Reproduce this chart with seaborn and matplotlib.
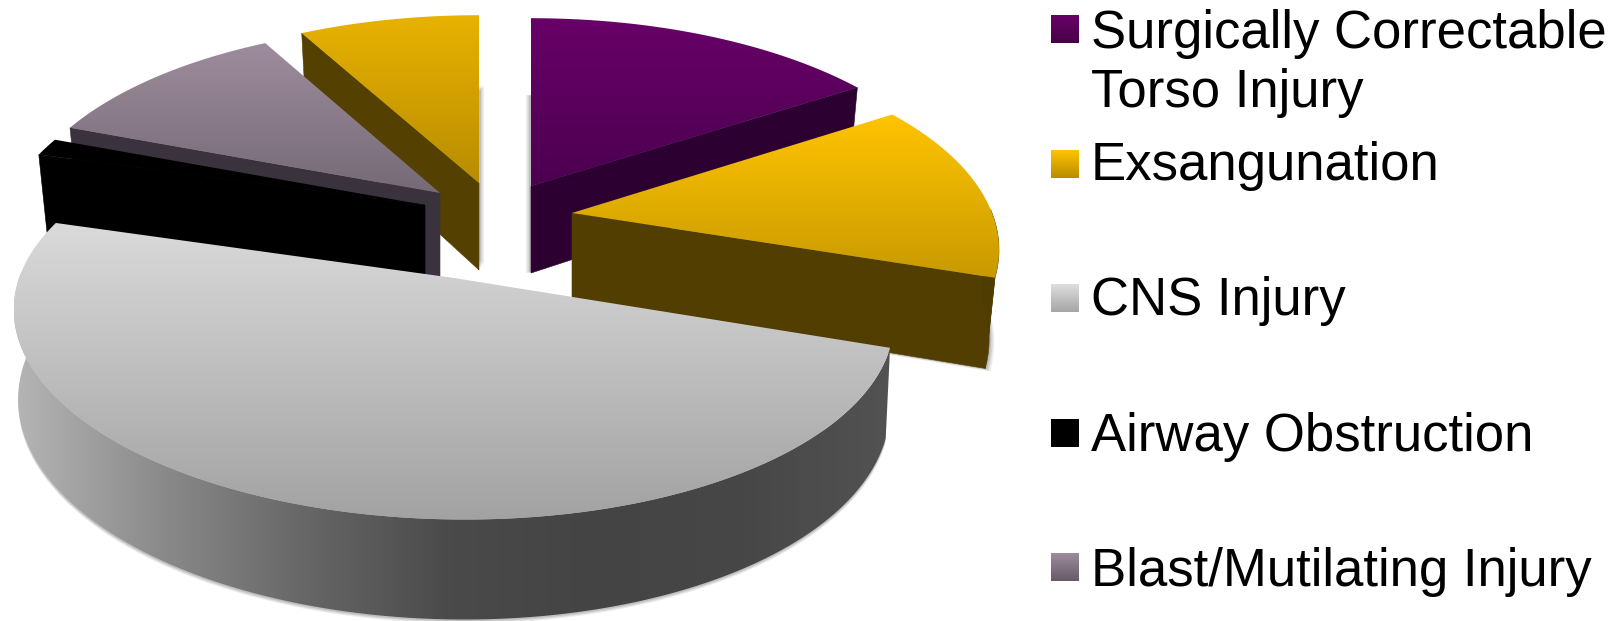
import numpy as np
import matplotlib
matplotlib.use("Agg")
import matplotlib.pyplot as plt
from matplotlib.patches import Polygon
import seaborn as sns

# Share of deaths per injury type, clockwise from twelve o'clock, in percent.
injury_types = ["Surgically Correctable\nTorso Injury", "Exsangunation", "CNS Injury",
                "Airway Obstruction", "Blast/Mutilating Injury"]
injury_shares = [15.8, 14.2, 49.3, 1.4, 11.3, 8.0]   # the sixth slice has no legend entry

# Per-slice styling: apex on the canvas, width, tilt, taper, shadow shift, colours.
slice_styles = [
    dict(apex=(531, 186), rx=428, tilt=0, lean=0.977, shadow=(-5, 0), grad=("#680068", "#4c0050"), face="#2c0030", side="#2c0030"),
    dict(apex=(572, 213), rx=420, tilt=0, lean=0.977, shadow=(5, 3), grad=("#ffc400", "#c89a00"), face="#523e00", side="#4f3c00"),
    dict(apex=(454, 278), rx=433, tilt=5, lean=0.99, shadow=(0, 4), grad=("#dadada", "#a2a2a2"), face="#555555", side=None),
    dict(apex=(425, 205), rx=420, tilt=0, lean=0.977, shadow=None, grad=("#000000", "#000000"), face="#000000", side="#000000"),
    dict(apex=(440, 193), rx=420, tilt=0, lean=0.977, shadow=None, grad=("#9d8c9d", "#766a77"), face="#3a323c", side="#3a323c"),
    dict(apex=(479, 183), rx=426, tilt=0, lean=0.977, shadow=(5, -6), grad=("#e8b200", "#b88c00"), face="#544000", side="#4f3c00"),
]
swatch_colours = [("#680068", "#480048"), ("#ffc400", "#b88c00"), ("#dedede", "#a6a6a6"),
                  ("#000000", "#000000"), ("#9d8c9d", "#665a67")]
draw_order = [5, 4, 3, 0, 1, 2]

HEIGHT_SCALE = 198.0
PERSPECTIVE = 0.18
DEPTH = 87.0
DEPTH_PERSPECTIVE = 0.13

sns.set_theme(style="white")
plt.rcParams["font.family"] = ["Liberation Sans", "DejaVu Sans"]

fig = plt.figure(figsize=(16.18, 6.21), dpi=100, facecolor="white")
ax = fig.add_axes([0, 0, 1, 1])
ax.set_xlim(0, 1618)
ax.set_ylim(621, 0)
ax.axis("off")


def top_point(style, theta):
    """Ground-plane angle (degrees) to a point on the slice's top rim."""
    t = np.radians(theta)
    w = 1 + PERSPECTIVE * np.sin(t)
    x = style["apex"][0] + style["rx"] * np.cos(t) / w
    y = style["apex"][1] - HEIGHT_SCALE * np.sin(t) / w + style["tilt"] * np.cos(t) / w
    return np.column_stack([x, y])


def lower(style, pts, thetas):
    """Drop rim points by the slice thickness to the bottom rim."""
    t = np.radians(thetas)
    out = pts.copy()
    out[:, 0] = style["apex"][0] + (pts[:, 0] - style["apex"][0]) * style["lean"]
    out[:, 1] = pts[:, 1] + DEPTH / (1 + DEPTH_PERSPECTIVE * np.sin(t))
    return out


def gradient_fill(poly, colours, vertical=True, zorder=2):
    """Fill a polygon with a linear gradient built from a seaborn colour blend."""
    cmap = sns.blend_palette(list(colours), n_colors=256, as_cmap=True)
    ramp = np.linspace(0, 1, 256)
    ramp = ramp[:, None] if vertical else ramp[None, :]
    x0, x1 = poly[:, 0].min(), poly[:, 0].max()
    y0, y1 = poly[:, 1].min(), poly[:, 1].max()
    image = ax.imshow(ramp, cmap=cmap, extent=(x0, x1, y1, y0), origin="upper",
                      aspect="auto", interpolation="bilinear", zorder=zorder)
    clip = Polygon(poly, closed=True, transform=ax.transData, facecolor="none", edgecolor="none")
    ax.add_patch(clip)
    image.set_clip_path(clip)


def draw_slice(style, start, end, zorder):
    thetas = np.linspace(start, end, 200)
    rim = top_point(style, thetas)
    apex = np.array([style["apex"]], dtype=float)
    apex_low = apex + np.array([[0, DEPTH]])

    # Soft shadow under the slice, from its bottom outline.
    if style["shadow"] is not None:
        outline = np.vstack([apex_low, lower(style, rim, thetas)])
        for k, alpha in zip((1.0, 0.7, 0.4), (0.10, 0.14, 0.18)):
            ax.add_patch(Polygon(outline + np.array(style["shadow"]) * k, closed=True,
                                 facecolor="#555555", edgecolor="none", alpha=alpha, zorder=zorder))

    # Only the faces turned towards the viewer are drawn.
    for angle, normal in ((start, start + 90), (end, end - 90)):
        if np.sin(np.radians(normal)) < -0.01:
            edge = top_point(style, np.array([angle]))
            edge_low = lower(style, edge, np.array([angle]))
            quad = np.vstack([apex, edge, edge_low, apex_low])
            ax.add_patch(Polygon(quad, closed=True, facecolor=style["face"], edgecolor=style["face"],
                                 linewidth=0.4, zorder=zorder + 1))

    front = thetas[np.sin(np.radians(thetas)) < 0.02]
    if front.size > 1:
        upper_rim = top_point(style, front)
        wall = np.vstack([upper_rim, lower(style, upper_rim, front)[::-1]])
        if style["side"] is None:
            gradient_fill(wall, ("#b4b4b4", "#8a8a8a", "#666666", "#4a4a4a", "#444444", "#474747", "#525252"),
                          vertical=False, zorder=zorder + 1)
        else:
            ax.add_patch(Polygon(wall, closed=True, facecolor=style["side"], edgecolor=style["side"],
                                 linewidth=0.4, zorder=zorder + 1))

    gradient_fill(np.vstack([apex, rim]), style["grad"], zorder=zorder + 2)


# Turn the shares into clockwise angular spans starting at the top.
edges = 90 - 360 * np.concatenate([[0], np.cumsum(injury_shares)]) / np.sum(injury_shares)
for rank, i in enumerate(draw_order):
    draw_slice(slice_styles[i], edges[i], edges[i + 1], zorder=10 + 5 * rank)

# Legend, built by hand so the uneven row spacing is kept.
swatch_tops = [15, 150, 284, 419, 553]
label_baselines = [107, 180, 315, 451, 586]
for label, colours, top, base in zip(injury_types, swatch_colours, swatch_tops, label_baselines):
    box = np.array([[1051, top], [1079, top], [1079, top + 28], [1051, top + 28]], dtype=float)
    gradient_fill(box, colours, zorder=50)
    ax.text(1091, base, label, fontsize=38, color="black", va="baseline", ha="left",
            linespacing=1.24, zorder=51)

ax.set_xlim(0, 1618)
ax.set_ylim(621, 0)
fig.savefig("out.png", dpi=100, facecolor="white")
